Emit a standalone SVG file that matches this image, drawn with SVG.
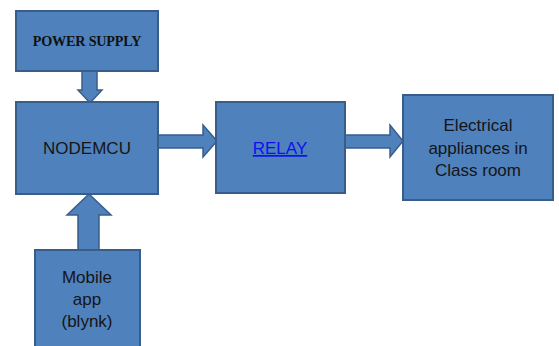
<svg xmlns="http://www.w3.org/2000/svg" width="559" height="346" viewBox="0 0 559 346">
<style>
.box{fill:#4f81bd;stroke:#385d8a;stroke-width:2}
.arr{fill:#4f81bd;stroke:#385d8a;stroke-width:1.5;stroke-linejoin:miter}
.t{font-family:"Liberation Sans",Arial,sans-serif;font-size:17px;fill:#151515;text-anchor:middle}
.ps{font-family:"Liberation Serif","Times New Roman",serif;font-size:14.2px;font-weight:bold;fill:#111;text-anchor:middle;letter-spacing:-0.2px}
.link{fill:#1010ee;text-decoration:underline}
</style>
<rect width="559" height="346" fill="#fff"/>
<g id="connectors">
<polygon class="arr" points="82,71 97,71 97,90 102,90 90,103 78,90 82,90"/>
<polygon class="arr" points="158,135 203,135 203,125 217,141 203,157 203,148 158,148"/>
<polygon class="arr" points="345,135 390,135 390,125 403,141 390,157 390,148 345,148"/>
<polygon class="arr" points="78,250 78,215 67,215 89,194 111,215 99,215 99,250"/>
</g>
<g id="power_supply">
<rect class="box" x="16" y="11" width="142" height="60"/>
<text class="ps" x="87" y="45.5">POWER SUPPLY</text>
</g>
<g id="nodemcu">
<rect class="box" x="16" y="102" width="142" height="92"/>
<text class="t" x="87" y="154" font-size="16.5">NODEMCU</text>
</g>
<g id="relay">
<rect class="box" x="216" y="102" width="129" height="91"/>
<text class="t link" x="280" y="154" font-size="15">RELAY</text>
</g>
<g id="appliances">
<rect class="box" x="403" y="95" width="150" height="105"/>
<text class="t" x="478" y="131">Electrical</text>
<text class="t" x="478" y="153.5">appliances in</text>
<text class="t" x="478" y="176">Class room</text>
</g>
<g id="mobile_app">
<rect class="box" x="35" y="250" width="105" height="100"/>
<text class="t" x="87" y="283">Mobile</text>
<text class="t" x="87" y="305">app</text>
<text class="t" x="87" y="327">(blynk)</text>
</g>
</svg>
